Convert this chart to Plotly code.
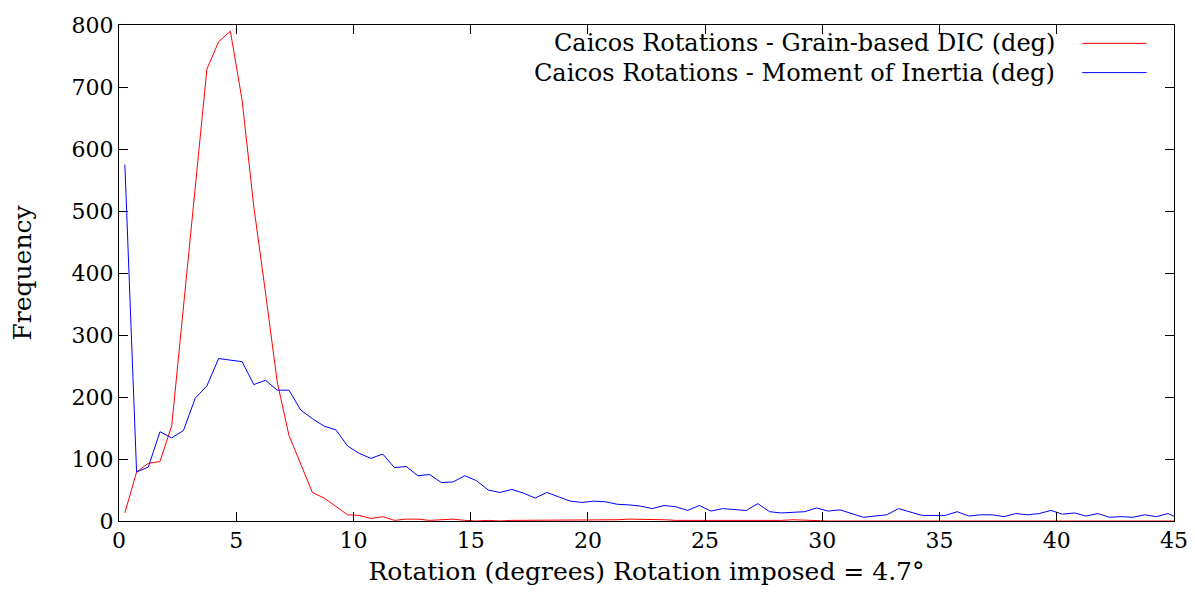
##################
# Caicos rotations histogram (gnuplot style)
#
import plotly.graph_objs as go

# bin centres (deg), 0.5 deg bins
bin_centers = [0.25 + 0.5 * i for i in range(91)]

# Grain-based DIC
dic_freq = [13, 79, 93, 96, 154, 345, 535, 729, 773, 790,
            679, 507, 368, 224, 138, 93, 46, 37, 23, 10,
            9, 4, 7, 1, 3, 3, 1, 2, 3, 1,
            0, 1, 0, 1, 1, 1, 1, 1, 1, 1,
            1, 2, 2, 3, 3, 2, 2, 1, 1, 0,
            0, 1, 0, 0, 0, 0, 1, 2, 1, 0,
            0, 0, 0, 1, 0, 0, 0, 0, 0, 0,
            0, 0, 1, 1, 1, 1, 1, 0, 0, 0,
            1, 0, 0, 0, 0, 0, 0, 0, 0, 0,
            0]

# Moment of inertia
moi_freq = [575, 79, 87, 144, 134, 146, 198, 218, 262, 259,
            257, 220, 227, 211, 211, 179, 165, 153, 147, 121,
            109, 101, 108, 86, 88, 73, 75, 62, 63, 73,
            65, 50, 46, 51, 45, 37, 46, 39, 32, 30,
            32, 31, 27, 26, 24, 20, 25, 23, 17, 25,
            16, 20, 19, 17, 28, 15, 13, 14, 15, 21,
            16, 18, 12, 6, 8, 10, 20, 14, 9, 9,
            9, 15, 8, 10, 10, 7, 12, 10, 12, 17,
            11, 13, 8, 12, 6, 7, 6, 10, 7, 12,
            3]

series_names = ["Caicos Rotations - Grain-based DIC (deg)",
                "Caicos Rotations - Moment of Inertia (deg)"]
series_colors = ["#ff0000", "#0000ff"]

x_title = "Rotation (degrees) Rotation imposed = 4.7°"
y_title = "Frequency"

FONT = "DejaVu Serif"
TICK_SIZE = 22
TEXT_SIZE = 25


def main():
  fig = go.Figure()
  for name, ys, col in zip(series_names, [dic_freq, moi_freq], series_colors):
    fig.add_trace(go.Scatter(x=bin_centers, y=ys, name=name, mode="lines",
                             line=dict(color=col, width=1), showlegend=False))

  # gnuplot-like key: text on the left, sample line on the right
  key_y = [0.963, 0.904]
  for name, col, ky in zip(series_names, series_colors, key_y):
    fig.add_annotation(x=0.889, y=ky, xref="paper", yref="paper", text=name,
                       showarrow=False, xanchor="right", yanchor="middle",
                       font=dict(family=FONT, size=TEXT_SIZE - 1, color="black"))
    fig.add_shape(type="line", xref="paper", yref="paper",
                  x0=0.913, x1=0.974, y0=ky, y1=ky,
                  line=dict(color=col, width=1))

  axis_common = dict(showline=True, linecolor="black", linewidth=1, mirror="ticks",
                     ticks="inside", ticklen=9, tickcolor="black", showgrid=False,
                     zeroline=False, automargin=False,
                     tickfont=dict(family=FONT, size=TICK_SIZE, color="black"))
  fig.update_xaxes(range=[0, 45], dtick=5, tick0=0,
                   title=dict(text=x_title, font=dict(family=FONT, size=TEXT_SIZE, color="black"),
                              standoff=18),
                   **axis_common)
  fig.update_yaxes(range=[0, 800], dtick=100, tick0=0,
                   title=dict(text=y_title, font=dict(family=FONT, size=TEXT_SIZE, color="black"),
                              standoff=32),
                   **axis_common)

  # page body adds an 8px margin, so the figure is shifted by 8px
  fig.update_layout(width=1187, height=578, plot_bgcolor="white", paper_bgcolor="white",
                    margin=dict(l=111, r=21, t=17, b=65),
                    font=dict(family=FONT, size=TICK_SIZE, color="black"))
  fig.write_html("out.html")


if __name__ == '__main__':
  main()
